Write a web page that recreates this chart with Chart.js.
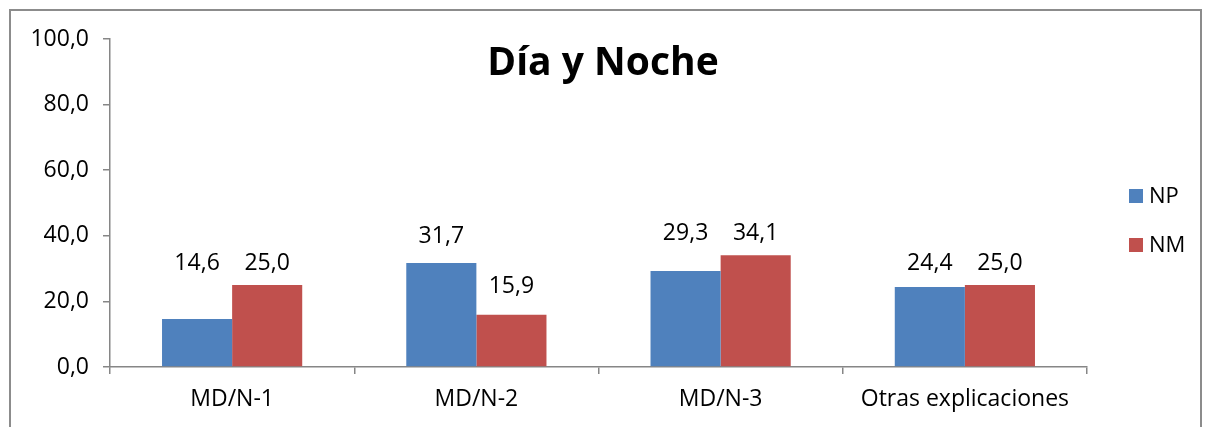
<!DOCTYPE html>
<html>
<head>
<meta charset="utf-8">
<script src="https://cdn.jsdelivr.net/npm/chart.js@4/dist/chart.umd.min.js"></script>
<style>
  html, body { margin: 0; padding: 0; background: #fff; }
  #wrap { position: relative; width: 1206px; height: 427px; overflow: hidden; }
  #frame { position: absolute; left: 9px; top: 9px; width: 1189px; height: 440px; border: 2px solid #8c8c8c; }
  canvas { position: absolute; left: 0; top: 0; }
</style>
</head>
<body>
<div id="wrap">
  <div id="frame"></div>
  <canvas id="chart" width="1206" height="427"></canvas>
</div>
<script>
const categories = ['MD/N-1', 'MD/N-2', 'MD/N-3', 'Otras explicaciones']
const npValues = [14.6, 31.7, 29.3, 24.4]
const nmValues = [25.0, 15.9, 34.1, 25.0]
const seriesNames = ['NP', 'NM']
const seriesColors = ['#4f81bd', '#c0504d']
const chartTitle = 'Día y Noche'

const FONT = "'Open Sans', 'Noto Sans', sans-serif"
const fmt = v => v.toFixed(1).replace('.', ',')

// value labels, title and legend drawn on top of the chart
const extras = {
  id: 'extras',
  afterDatasetsDraw(chart) {
    const ctx = chart.ctx
    const metas = [chart.getDatasetMeta(0), chart.getDatasetMeta(1)]
    ctx.save()
    ctx.fillStyle = '#000'
    ctx.font = `23px ${FONT}`
    ctx.textAlign = 'center'
    ctx.textBaseline = 'middle'
    categories.forEach((c, i) => {
      const a = metas[0].data[i], b = metas[1].data[i]
      const va = npValues[i], vb = nmValues[i]
      let ya, yb
      if (Math.abs(va - vb) < 12) {
        ya = yb = Math.min(a.y, b.y) - 22
      } else {
        ya = a.y - 27
        yb = b.y - 28
      }
      ctx.fillText(fmt(va), a.x, ya)
      ctx.fillText(fmt(vb), b.x, yb)
    })

    // title
    ctx.font = `bold 39px ${FONT}`
    ctx.fillText(chartTitle, 603, 64)

    // legend
    ctx.font = `22px ${FONT}`
    ctx.textAlign = 'left'
    seriesNames.forEach((n, i) => {
      const y = 196 + i * 49
      ctx.fillStyle = seriesColors[i]
      ctx.fillRect(1129, y - 7, 14, 14)
      ctx.fillStyle = '#000'
      ctx.fillText(n, 1149, y + 1)
    })
    ctx.restore()
  }
}

new Chart(document.getElementById('chart'), {
  type: 'bar',
  data: {
    labels: categories,
    datasets: [
      { label: seriesNames[0], data: npValues, backgroundColor: seriesColors[0] },
      { label: seriesNames[1], data: nmValues, backgroundColor: seriesColors[1] }
    ]
  },
  options: {
    responsive: false,
    animation: false,
    layout: { padding: { top: 39, right: 119, left: 0, bottom: 0 } },
    datasets: { bar: { categoryPercentage: 0.574, barPercentage: 1, borderWidth: 0 } },
    plugins: { legend: { display: false }, tooltip: { enabled: false }, title: { display: false } },
    scales: {
      x: {
        afterFit: s => { s.height = 60 },
        grid: { display: true, drawOnChartArea: false, offset: true, color: '#868686', tickLength: 7, lineWidth: 1.5 },
        border: { color: '#868686', width: 1.5 },
        ticks: { color: '#000', font: { family: FONT, size: 23 }, padding: 12 }
      },
      y: {
        min: 0,
        max: 100,
        afterFit: s => { s.width = 110 },
        grid: { display: true, drawOnChartArea: false, color: '#868686', tickLength: 7, lineWidth: 1.5 },
        border: { color: '#868686', width: 1.5 },
        ticks: { stepSize: 20, color: '#000', font: { family: FONT, size: 23 }, padding: 14, callback: v => fmt(v) }
      }
    }
  },
  plugins: [extras]
})
</script>
</body>
</html>
